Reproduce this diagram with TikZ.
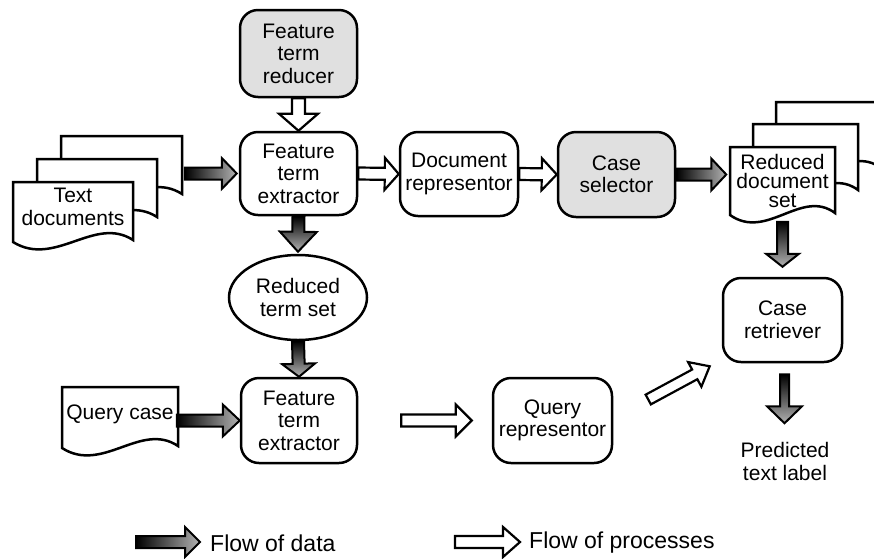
\documentclass[tikz,border=0pt]{standalone}
\usepackage{fontspec}
\setmainfont{Liberation Sans}
\usetikzlibrary{calc,shapes.geometric}
\newcommand\nodefont{\fontsize{21}{22.5}\selectfont}
\newcommand\legfont{\fontsize{23}{25}\selectfont}
\newcommand\blockarrow[6][]{%
  \path let \p1=(#2), \p2=(#3) in \pgfextra{%
    \pgfmathsetmacro\tmpa{veclen(\x2-\x1,\y2-\y1)}\global\let\BAlen\tmpa
    \pgfmathsetmacro\tmpb{atan2(\y2-\y1,\x2-\x1)}\global\let\BAang\tmpb
    \pgfmathsetmacro\tmpc{\x1}\global\let\BAx\tmpc
    \pgfmathsetmacro\tmpd{\y1}\global\let\BAy\tmpd};
  \pgfmathsetmacro\BAs{#4/2}\pgfmathsetmacro\BAh{#5/2}\pgfmathsetmacro\BAb{\BAlen-#6}%
  \path[#1,shift={(\BAx pt,\BAy pt)},rotate=\BAang]
    (0pt,-\BAs pt) -- (\BAb pt,-\BAs pt) -- (\BAb pt,-\BAh pt) -- (\BAlen pt,0pt)
    -- (\BAb pt,\BAh pt) -- (\BAb pt,\BAs pt) -- (0pt,\BAs pt) -- cycle;
}
\newcommand\docshape[4]{%
  \draw[docline] (#1,#2) -- ({#1+#3},#2) -- ({#1+#3},{#2+#4-2})
    .. controls ({#1+0.68*#3},{#2+#4-27}) and ({#1+0.35*#3},{#2+#4+26}) .. (#1,{#2+#4}) -- cycle;
}
\tikzset{
  box/.style={draw, line width=2.5pt, rounded corners=18pt, minimum width=117pt,
    minimum height=84pt, align=center, font=\nodefont, inner sep=0pt, fill=white},
  graybox/.style={box, fill=black!12},
  ellbox/.style={draw, line width=2.5pt, ellipse, minimum width=138pt, minimum height=85pt,
    align=center, font=\nodefont, inner sep=0pt, fill=white},
  plain/.style={align=center, font=\nodefont, inner sep=0pt},
  docline/.style={draw, line width=2.5pt, fill=white, line join=miter},
  darkarrow/.style={draw, line width=2pt, line join=miter, left color=black, right color=black!30},
  darkdown/.style={draw, line width=2pt, line join=miter, top color=black, bottom color=black!30},
  openarrow/.style={draw, line width=2.2pt, line join=miter, fill=white},
}
\begin{document}
\begin{tikzpicture}[x=1pt,y=-1pt]
\useasboundingbox (0,0) rectangle (874,558);
\clip (0,0) rectangle (874,558);
% nodes
\node[graybox, minimum height=87pt] (red) at (298.5,53.5) {Feature\\term\\reducer};
\node[box, minimum height=83pt] (ext1) at (298.5,173.5) {Feature\\term\\extractor};
\node[box, minimum width=118pt] (docrep) at (459,174) {Document\\representor};
\node[graybox, minimum height=85pt] (cs) at (616.5,174.5) {Case\\selector};
\node[ellbox] (rts) at (298,297.5) {Reduced\\term set};
\node[box, minimum width=116pt, minimum height=85pt] (ext2) at (299,420.5) {Feature\\term\\extractor};
\node[box, minimum width=119pt, minimum height=85pt] (qr) at (552.5,420.5) {Query\\representor};
\node[box, minimum width=119pt] (cr) at (782.5,320) {Case\\retriever};
\node[plain] (pred) at (785,461.5) {Predicted\\text label};
% text documents
\docshape{61}{136}{121}{60}
\docshape{37}{159}{120}{60}
\docshape{13}{182}{120}{60}
\node[plain] (td) at (73,207) {Text\\documents};
% reduced document set
\docshape{776}{102}{105}{68}
\docshape{753}{124}{105}{68}
\docshape{730}{147}{105}{68}
\node[plain, font=\fontsize{21}{19}\selectfont] (rds) at (782.5,181) {Reduced\\document\\set};
% query case
\docshape{62}{387}{116}{61}
\node[plain] (qc) at (120,414) {Query case};
% dark arrows (flow of data)
\blockarrow[darkarrow]{$(ext1.west)+(-54,0)$}{$(ext1.west)+(-2,0)$}{12}{31}{15}
\blockarrow[darkdown]{ext1.south}{$(rts.north)+(0,-2)$}{12}{37}{20}
\blockarrow[darkdown]{rts.south}{ext2.north}{12}{33}{13}
\blockarrow[darkarrow]{$(ext2.west)+(-63,0)$}{ext2.west}{12}{32}{17}
\blockarrow[darkarrow]{cs.east}{$(cs.east)+(50,0)$}{12}{32}{15}
\blockarrow[darkdown]{$(cr.north)+(0,-55)$}{$(cr.north)+(0,-10)$}{11}{33}{13}
\blockarrow[darkdown]{$(cr.south)+(2,11)$}{$(cr.south)+(2,60)$}{9}{35}{17}
% open arrows (flow of processes)
\blockarrow[openarrow]{red.south}{ext1.north}{13}{39}{17}
\blockarrow[openarrow]{ext1.east}{docrep.west}{12}{32}{14}
\blockarrow[openarrow]{docrep.east}{cs.west}{12}{32}{15}
\blockarrow[openarrow]{$(ext2.east)+(43,0)$}{$(qr.west)+(-20,0)$}{12}{32}{16}
\blockarrow[openarrow]{$(qr.east)+(35,-21)$}{$(cr.south west)+(-12,3)$}{11}{28}{17}
% legend
\coordinate (ld1) at (136,542);
\coordinate (ld2) at (200,542);
\coordinate (lp1) at (455,542);
\coordinate (lp2) at (520,542);
\blockarrow[darkarrow]{ld1}{ld2}{12}{30}{15}
\blockarrow[openarrow]{lp1}{lp2}{12}{30}{17}
\node[anchor=west, font=\legfont, inner sep=0pt] (ldt) at ($(ld2)+(10,1)$) {Flow of data};
\node[anchor=west, font=\legfont, inner sep=0pt] (lpt) at ($(lp2)+(9,1)$) {Flow of processes};
\end{tikzpicture}
\end{document}
